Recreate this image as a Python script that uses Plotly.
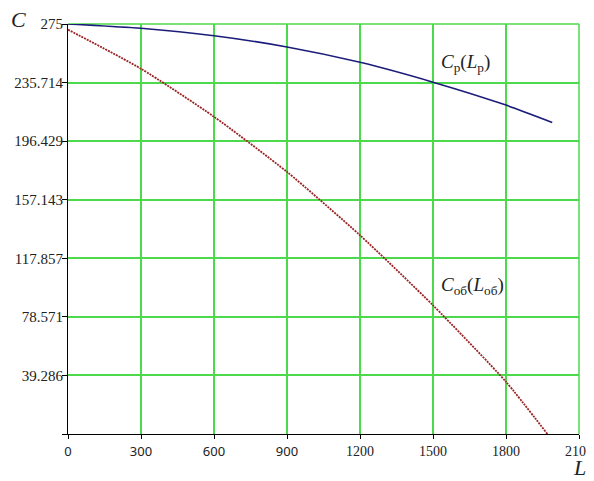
import plotly.graph_objects as go

# ---- data ----
L_p = [0, 300, 600, 900, 1200, 1500, 1800, 1990]
C_p = [275, 272.1, 267.1, 259.6, 249.3, 236.0, 220.6, 209.0]

L_ob = [0, 300, 600, 900, 1200, 1500, 1800, 1970]
C_ob = [271.2, 245.0, 212.8, 175.8, 133.3, 86.3, 35.0, 0]

x_ticks = [0, 300, 600, 900, 1200, 1500, 1800, 2100]
y_ticks = [0, 39.286, 78.571, 117.857, 157.143, 196.429, 235.714, 275]
y_ticktext = ["", "39.286", "78.571", "117.857", "157.143", "196.429", "235.714", "275"]

SANS = "Noto Sans"
SERIF = "Liberation Serif"
x_ticktext = [f'<span style="font-family:{SANS};font-size:13px">{v}</span>' if v < 1200 else str(v)
              for v in x_ticks]

GRID = "#4cd94c"

fig = go.Figure()
fig.add_trace(go.Scatter(x=L_p, y=C_p, mode="lines",
                         line=dict(color="#1c1c7a", width=1.6, shape="spline", smoothing=0.6),
                         hoverinfo="skip", showlegend=False))
fig.add_trace(go.Scatter(x=L_ob, y=C_ob, mode="lines",
                         line=dict(color="#9a2424", width=1.8, dash="2px,1px", shape="spline", smoothing=0.6),
                         hoverinfo="skip", showlegend=False))

# page body has an 8px margin, so the figure is sized/margined to compensate
fig.update_layout(
    template="none",
    width=586, height=473,
    margin=dict(l=60, r=15, t=16, b=47, autoexpand=False),
    paper_bgcolor="white", plot_bgcolor="white",
    font=dict(family=SERIF, size=14, color="#222"),
    xaxis=dict(range=[0, 2100], tickmode="array", tickvals=x_ticks, ticktext=x_ticktext,
               automargin=False,
               showgrid=True, gridcolor=GRID, gridwidth=1.5,
               showline=True, linecolor="black", linewidth=1.2,
               ticks="outside", ticklen=4, tickcolor="black", zeroline=False,
               tickfont=dict(family=SERIF, size=14, color="#222")),
    yaxis=dict(range=[0, 275], tickmode="array", tickvals=y_ticks, ticktext=y_ticktext,
               automargin=False,
               showgrid=True, gridcolor=GRID, gridwidth=1.5,
               showline=True, linecolor="black", linewidth=1.2,
               ticks="outside", ticklen=5, tickcolor="black", zeroline=False,
               ticklabelstandoff=-4,
               tickfont=dict(family=SERIF, size=15, color="#222")),
)

# green border at top and right (grid frame)
fig.add_shape(type="line", xref="paper", yref="paper", x0=0, x1=1, y0=1, y1=1,
              line=dict(color=GRID, width=1.5), layer="below")
fig.add_shape(type="line", xref="paper", yref="paper", x0=1, x1=1, y0=0, y1=1,
              line=dict(color=GRID, width=1.5), layer="below")

fig.add_annotation(xref="paper", yref="paper", x=-0.096, y=1.01, xanchor="center", yanchor="middle",
                   text="<i>C</i>", showarrow=False, font=dict(family=SERIF, size=22, color="#222"))
fig.add_annotation(xref="paper", yref="paper", x=1.0, y=-0.082, xanchor="center", yanchor="middle",
                   text="<i>L</i>", showarrow=False, font=dict(family=SERIF, size=22, color="#222"))

fig.add_annotation(x=1500, y=249, xref="x", yref="y", xanchor="left", yanchor="middle", xshift=6,
                   text="<i>C</i><sub>р</sub>(<i>L</i><sub>р</sub>)", showarrow=False,
                   font=dict(family=SERIF, size=19, color="#222"))
fig.add_annotation(x=1500, y=99, xref="x", yref="y", xanchor="left", yanchor="middle", xshift=6,
                   text="<i>C</i><sub>об</sub>(<i>L</i><sub>об</sub>)", showarrow=False,
                   font=dict(family=SERIF, size=19, color="#222"))

fig.write_html("out.html")
